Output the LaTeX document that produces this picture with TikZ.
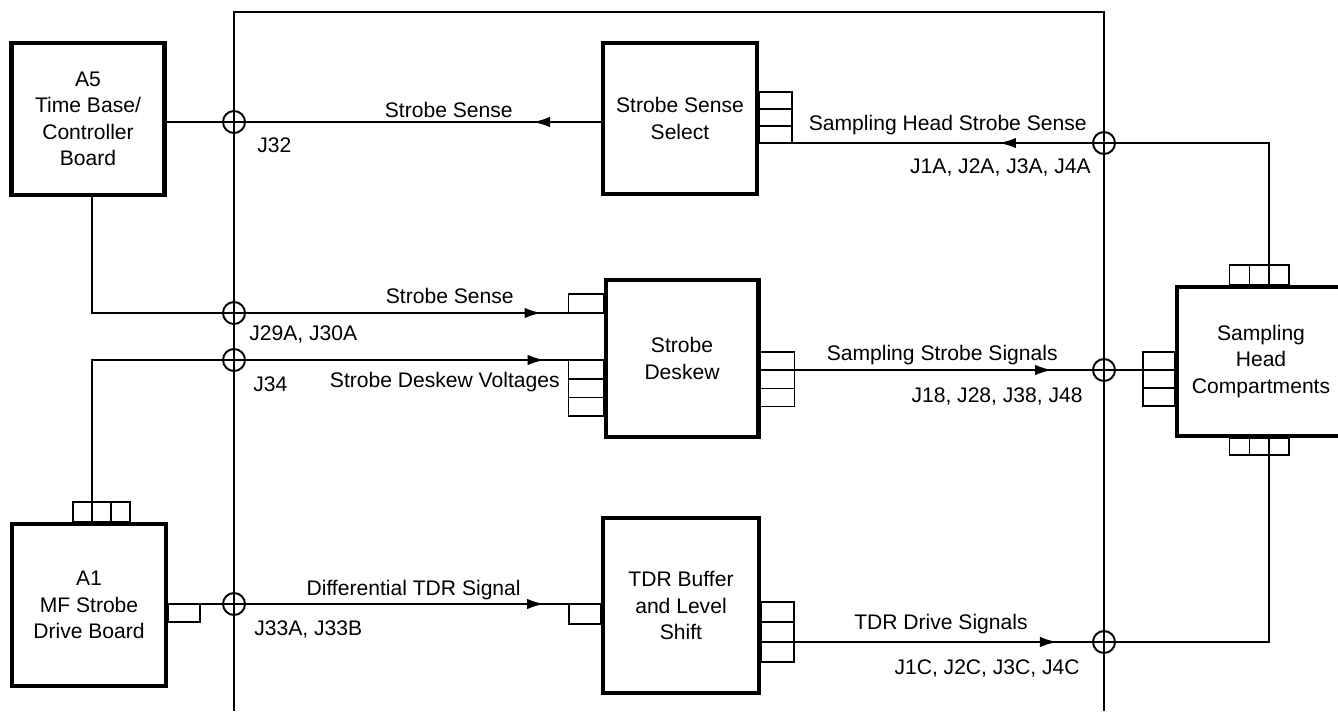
\documentclass[tikz,border=0pt]{standalone}
\usepackage{fontspec}
\setmainfont{Liberation Sans}
\usetikzlibrary{arrows.meta,decorations.markings,calc,positioning}

\begin{document}
\begin{tikzpicture}[
        x=0.02cm, y=-0.02cm,
        font=\fontsize{12}{15}\selectfont,
        box/.style={draw, line width=2.3pt, align=center, inner sep=0pt},
        wire/.style={line width=1.1pt},
        stub/.style={line width=0.9pt},
        jack/.style={circle, draw, line width=1.1pt, minimum size=0.44cm, inner sep=0pt},
        lbl/.style={inner sep=0pt},
        arrowat/.style={postaction={decorate, decoration={markings,
            mark=at position #1 with {\arrow{Latex[length=0.34cm,width=0.21cm]}}}}}
    ]
        \useasboundingbox (0,0) rectangle (1338,711);
        \clip (0,0) rectangle (1338,711);

        % boards and blocks
        \node[box, minimum width=3.06cm, minimum height=3.04cm] (a5) at (88,119) {A5\\Time Base/\\Controller\\Board};
        \node[box, minimum width=3.08cm, minimum height=3.02cm] (ssel) at (680,118.5) {Strobe Sense\\Select};
        \node[box, minimum width=3.06cm, minimum height=3.14cm] (desk) at (682,358.5) {Strobe\\Deskew};
        \node[box, minimum width=3.12cm, minimum height=3.5cm] (tdr) at (681,605.5) {TDR Buffer\\and Level\\Shift};
        \node[box, minimum width=3.08cm, minimum height=3.24cm] (a1) at (89,605) {A1\\MF Strobe\\Drive Board};
        \node[box, minimum width=3.36cm, minimum height=2.98cm] (head) at (1261,361.5) {Sampling\\Head\\Compartments};

        % jacks on the frame
        \node[jack] (j32) at (234,122) {};
        \node[jack] (j29) at (234,313) {};
        \node[jack] (j34) at (234,360) {};
        \node[jack] (j33) at (234,604) {};
        \node[jack] (j1a) at (1104,143) {};
        \node[jack] (j18) at (1104,370) {};
        \node[jack] (j1c) at (1104,642) {};

        \coordinate (a5out) at ($(a5.south)+(4,0)$);
        \coordinate (a1up) at ($(a1.north)+(3,0)$);
        \coordinate (hx) at (1269,0);

        % frame
        \draw[wire] (234,711) -- (234,12) -- (1104,12) -- (1104,711);

        % connector stubs
        \foreach \k in {0,1,2}
            \draw[stub] ($(ssel.east)+(0,-26.5+17*\k)$) rectangle ++(33,17);
        \draw[stub] (desk.west |- j29) rectangle ++(-35,-19);
        \foreach \k in {0,1,2}
            \draw[stub] ($(desk.west |- j34)+(0,18.7*\k)$) rectangle ++(-35,18.7);
        \foreach \k in {-1,0,1}
            \draw[stub] ($(desk.east |- j18)+(0,18.3*\k)$) rectangle ++(34,18.3);
        \draw[stub] (tdr.west |- j33) rectangle ++(-32,20);
        \foreach \k in {-2,-1,0}
            \draw[stub] ($(tdr.east |- j1c)+(0,20*\k)$) rectangle ++(33,20);
        \draw[stub] (a1.east |- j33) rectangle ++(32,18);
        \foreach \k in {-1,0,1}
            \draw[stub] ($(a1.north -| a1up)+(19*\k,0)$) rectangle ++(19,-20);
        \foreach \k in {-1,0,1}
            \draw[stub] ($(head.west |- j18)+(0,18*\k)$) rectangle ++(-32,18);
        \foreach \k in {-2,-1,0} {
            \draw[stub] ($(head.north -| hx)+(19.7*\k,0)$) rectangle ++(19.7,-20);
            \draw[stub] ($(head.south -| hx)+(19.7*\k,0)$) rectangle ++(19.7,17);
        }

        % signal lines
        \draw[wire, arrowat=1.36cm] (ssel.west |- j32) -- (a5.east |- j32);
        \draw[wire, arrowat=-0.54cm] (a5out) |- (j29.center) -- ($(desk.west |- j29)+(-35,0)$);
        \draw[wire, arrowat=-0.48cm] (a1up) |- (j34.center) -- ($(desk.west |- j34)+(-35,0)$);
        \draw[wire, arrowat=-0.5cm] (a1.east |- j33) -- (j33.center) -- ($(tdr.west |- j33)+(-32,0)$);
        \draw[wire, arrowat=-1.82cm] ($(desk.east |- j18)+(34,0)$) -- (j18.center) -- ($(head.west |- j18)+(-32,0)$);
        \draw[wire, arrowat=5.26cm] ($(tdr.east |- j1c)+(33,0)$) -- (j1c.center) -| ($(head.south -| hx)+(0,17)$);
        \draw[wire, arrowat=-4.14cm] ($(head.north -| hx)+(0,-20)$) |- (j1a.center) -- ($(ssel.east |- j1a)+(33,0)$);

        % labels
        \node[lbl, anchor=east] (l-ss1) at (513,110) {Strobe Sense};
        \node[lbl, anchor=west] (l-j32) at (257,145) {J32};
        \node[lbl, anchor=east] (l-hss) at (1087,125) {Sampling Head Strobe Sense};
        \node[lbl, anchor=east] (l-j1a) at (1091,167) {J1A, J2A, J3A, J4A};
        \node[lbl, anchor=east] (l-ss2) at (514,296) {Strobe Sense};
        \node[lbl, anchor=west] (l-j29) at (249,334) {J29A, J30A};
        \node[lbl, anchor=west] (l-j34) at (253,384) {J34};
        \node[lbl, anchor=east] (l-sdv) at (560,382) {Strobe Deskew Voltages};
        \node[lbl, anchor=east] (l-sss) at (1058,355) {Sampling Strobe Signals};
        \node[lbl, anchor=east] (l-j18) at (1083,396) {J18, J28, J38, J48};
        \node[lbl, anchor=east] (l-dtdr) at (521,590) {Differential TDR Signal};
        \node[lbl, anchor=west] (l-j33) at (254,629) {J33A, J33B};
        \node[lbl, anchor=east] (l-tds) at (1028,624) {TDR Drive Signals};
        \node[lbl, anchor=east] (l-j1c) at (1080,668) {J1C, J2C, J3C, J4C};
    \end{tikzpicture}
\end{document}
